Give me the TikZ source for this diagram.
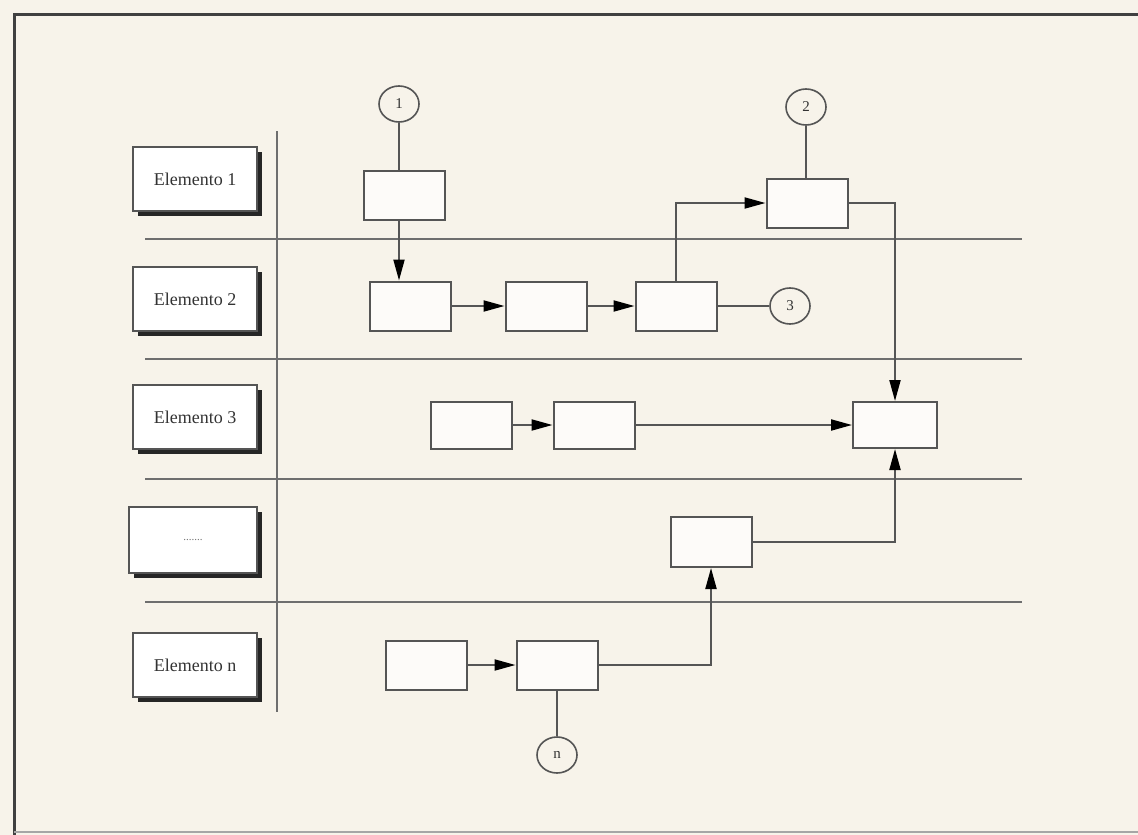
\documentclass[tikz,border=0pt]{standalone}
\usepackage{fontspec}
\setmainfont{Liberation Serif}
\usetikzlibrary{arrows.meta,shadows,shapes.geometric}
\definecolor{paper}{HTML}{F7F3EA}
\definecolor{ink}{HTML}{555555}
\begin{document}
\begin{tikzpicture}[x=1pt,y=-1pt,
  lane/.style={draw=ink!85, line width=2pt},
  frame/.style={draw=black!75, line width=3pt},
  lbl/.style={draw=ink, line width=1.8pt, fill=white, minimum width=124pt,
    minimum height=64pt, inner sep=0pt, text=black!80,
    font=\fontsize{18}{21}\selectfont,
    drop shadow={shadow xshift=4.5pt, shadow yshift=-4.5pt, fill=black!85, opacity=1}},
  proc/.style={draw=ink, line width=2pt, fill=white!70!paper,
    minimum width=81pt, minimum height=49pt, inner sep=0pt},
  conn/.style={ellipse, draw=ink, line width=1.6pt, minimum width=40pt,
    minimum height=36pt, inner sep=0pt, text=black!80,
    font=\fontsize{15}{17}\selectfont},
  link/.style={draw=ink, line width=2pt},
  flow/.style={link, -{Triangle[length=21pt,width=11pt,color=black]}}
]
% page and frame
\fill[paper] (0,0) rectangle (1138,835);
\useasboundingbox (0,0) rectangle (1138,835);
\draw[frame] (1138,14) -- (14,14) -- (14,835);
\draw[draw=black!35, line width=2pt] (14,832) -- (1138,832);

% swimlane separators
\draw[lane] (277,131) -- (277,712);
\foreach \yy in {239,359,479,602}
  \draw[lane] (145,\yy) -- (1022,\yy);

% lane labels
\node[lbl] (e1) at (195,179) {Elemento 1};
\node[lbl] (e2) at (195,299) {Elemento 2};
\node[lbl] (e3) at (195,417) {Elemento 3};
\node[lbl, minimum width=128pt, minimum height=66pt,
  font=\fontsize{11}{12}\selectfont, text=black!55] (e4) at (193,540) {.......};
\node[lbl] (en) at (195,665) {Elemento n};

% process steps
\node[proc] (b1) at (404,195) {};
\node[proc] (b2) at (410,306) {};
\node[proc] (b3) at (546,306) {};
\node[proc] (b4) at (676,306) {};
\node[proc] (b5) at (807,203) {};
\node[proc, minimum width=84pt, minimum height=46pt] (b6) at (895,425) {};
\node[proc, minimum height=47pt] (b7) at (471,425) {};
\node[proc, minimum height=47pt] (b8) at (594,425) {};
\node[proc, minimum height=50pt] (b9) at (711,542) {};
\node[proc] (b10) at (426,665) {};
\node[proc] (b11) at (557,665) {};

% off-page connectors
\node[conn] (c1) at (399,104) {1};
\node[conn] (c2) at (806,107) {2};
\node[conn] (c3) at (790,306) {3};
\node[conn] (cn) at (557,755) {n};

% flow
\draw[link] (c1) -- (c1 |- b1.north);
\draw[flow] (c1 |- b1.south) -- (c1 |- b2.north);
\draw[flow] (b2) -- (b3);
\draw[flow] (b3) -- (b4);
\draw[link] (b4) -- (c3);
\draw[flow] (b4.north) |- (b5.west);
\draw[link] (c2) -- (c2 |- b5.north);
\draw[flow] (b5.east) -| (b6.north);
\draw[flow] (b7) -- (b8);
\draw[flow] (b8) -- (b6);
\draw[flow] (b9.east) -| (b6.south);
\draw[flow] (b10) -- (b11);
\draw[flow] (b11.east) -| (b9.south);
\draw[link] (b11) -- (cn);
\end{tikzpicture}
\end{document}
